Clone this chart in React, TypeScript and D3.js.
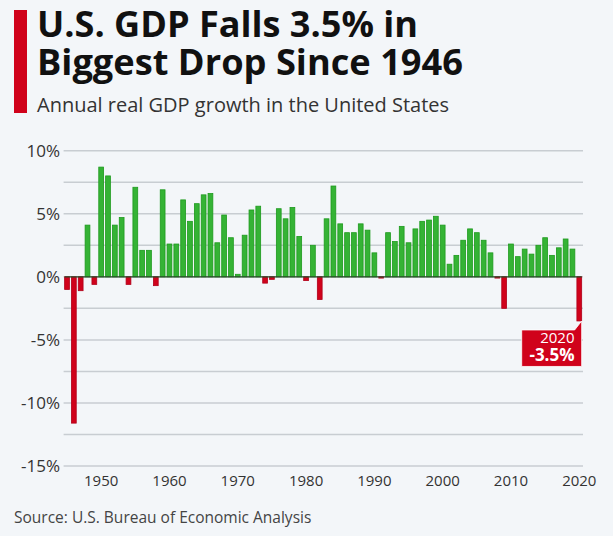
import React from "react";
import * as d3 from "d3";

const years: number[] = d3.range(1945, 2021);
const growth: number[] = [
  -1.0, -11.6, -1.1, 4.1, -0.6, 8.7, 8.0, 4.1, 4.7, -0.6,
  7.1, 2.1, 2.1, -0.7, 6.9, 2.6, 2.6, 6.1, 4.4, 5.8,
  6.5, 6.6, 2.7, 4.9, 3.1, 0.2, 3.3, 5.3, 5.6, -0.5,
  -0.2, 5.4, 4.6, 5.5, 3.2, -0.3, 2.5, -1.8, 4.6, 7.2,
  4.2, 3.5, 3.5, 4.2, 3.7, 1.9, -0.1, 3.5, 2.8, 4.0,
  2.7, 3.8, 4.4, 4.5, 4.8, 4.1, 1.0, 1.7, 2.9, 3.8,
  3.5, 2.9, 1.9, -0.1, -2.5, 2.6, 1.6, 2.2, 1.8, 2.5,
  3.1, 1.7, 2.3, 3.0, 2.2, -3.5,
];
const xTickYears: number[] = [1950, 1960, 1970, 1980, 1990, 2000, 2010, 2020];
const yLabelTicks: number[] = [-15, -10, -5, 0, 5, 10];
const yGridTicks: number[] = d3.range(-15, 10.01, 2.5);

const title1 = "U.S. GDP Falls 3.5% in";
const title2 = "Biggest Drop Since 1946";
const subtitle = "Annual real GDP growth in the United States";
const source = "Source: U.S. Bureau of Economic Analysis";
const calloutYear = "2020";
const calloutValue = "-3.5%";

const W = 613;
const H = 536;
const FONT = "'Open Sans', 'DejaVu Sans', sans-serif";
const GREEN = "#35b335";
const GREEN_STROKE = "#1d9a1d";
const RED = "#d0021b";
const RED_STROKE = "#b0001a";

export default function App() {
  const x = d3
    .scaleBand<number>()
    .domain(years)
    .range([63.6, 582.7])
    .paddingInner(0.3)
    .paddingOuter(0.15);
  const y = d3.scaleLinear().domain([-15, 10]).range([466, 150.7]);
  const bw = x.bandwidth();
  const y0 = y(0);

  const lastYear = years[years.length - 1];
  const lastVal = growth[growth.length - 1];
  const bx = (x(lastYear) as number) + bw;
  const by = y(lastVal);
  const boxL = 521.7;
  const boxT = by + 9;
  const boxB = boxT + 36.5;

  return (
    <svg
      width={W}
      height={H}
      style={{ position: "absolute", left: 0, top: 0, background: "#f3f6f9" }}
      fontFamily={FONT}
    >
      <rect x={0} y={0} width={W} height={H} fill="#f3f6f9" />
      {/* header */}
      <rect x={14} y={10} width={13} height={103} fill={RED} />
      <text
        x={37}
        y={37}
        fontSize={35}
        fontWeight={700}
        fill="#111"
        textLength={381}
        lengthAdjust="spacingAndGlyphs"
      >
        {title1}
      </text>
      <text
        x={37}
        y={75}
        fontSize={35}
        fontWeight={700}
        fill="#111"
        textLength={426}
        lengthAdjust="spacingAndGlyphs"
      >
        {title2}
      </text>
      <text x={37} y={111.5} fontSize={20} fill="#333">
        {subtitle}
      </text>

      {/* grid */}
      {yGridTicks.map((t) => (
        <line
          key={t}
          x1={63.6}
          x2={583}
          y1={y(t)}
          y2={y(t)}
          stroke="#c8cdd2"
          strokeWidth={1.5}
        />
      ))}
      {yLabelTicks.map((t) => (
        <text
          key={t}
          x={60}
          y={y(t)}
          dy="0.36em"
          textAnchor="end"
          fontSize={17}
          fill="#333"
        >
          {`${t}%`}
        </text>
      ))}

      {/* bars */}
      {years.map((yr, i) => {
        const v = growth[i];
        const pos = v >= 0;
        return (
          <rect
            key={yr}
            x={x(yr)}
            y={pos ? y(v) : y0}
            width={bw}
            height={Math.abs(y(v) - y0)}
            fill={pos ? GREEN : RED}
            stroke={pos ? GREEN_STROKE : RED_STROKE}
            strokeWidth={0.8}
          />
        );
      })}
      <line
        x1={x(years[0])}
        x2={bx}
        y1={y0}
        y2={y0}
        stroke="#2a4a2a"
        strokeWidth={1.3}
      />

      {/* x ticks */}
      {xTickYears.map((yr) => (
        <text
          key={yr}
          x={(x(yr) as number) + bw / 2}
          y={486}
          textAnchor="middle"
          fontSize={15}
          fill="#333"
        >
          {yr}
        </text>
      ))}

      {/* callout */}
      <path
        d={`M${boxL},${boxT} L${bx - 7},${boxT} L${bx},${by} L${bx},${boxB} L${boxL},${boxB} Z`}
        fill={RED}
        stroke="#fff"
        strokeWidth={0.8}
      />
      <text x={574.5} y={343} textAnchor="end" fontSize={15} fill="#fff">
        {calloutYear}
      </text>
      <text
        x={574.5}
        y={361}
        textAnchor="end"
        fontSize={17}
        fontWeight={700}
        fill="#fff"
      >
        {calloutValue}
      </text>

      {/* source */}
      <text x={14} y={523} fontSize={15.5} fill="#444">
        {source}
      </text>
    </svg>
  );
}
